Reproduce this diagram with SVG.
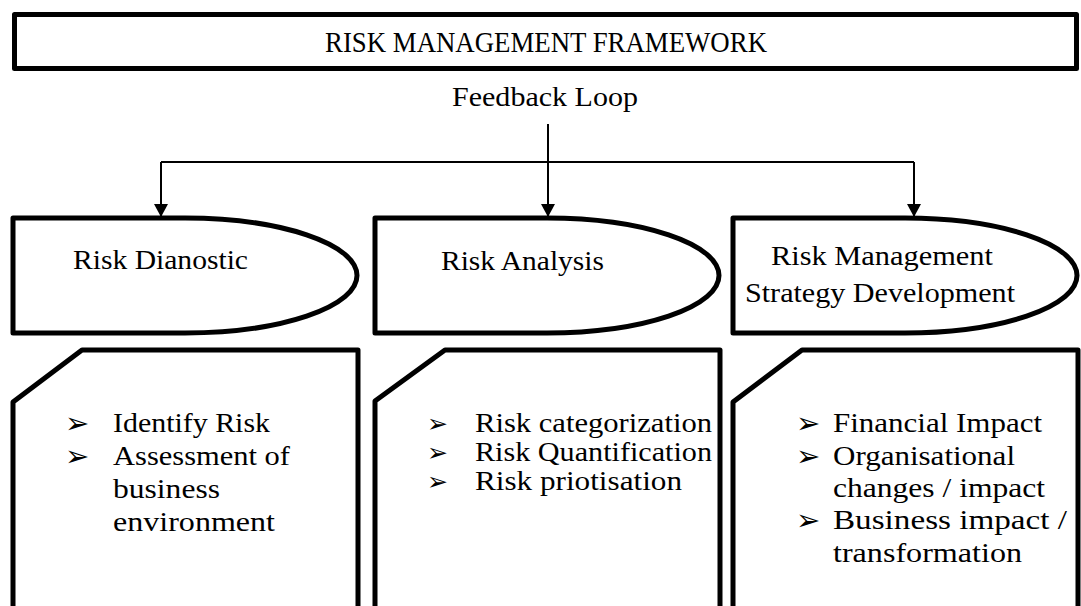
<svg xmlns="http://www.w3.org/2000/svg" width="1081" height="606" viewBox="0 0 1081 606">
<style>
.box{fill:#fff;stroke:#000;stroke-width:5;stroke-linejoin:round}
.t{font-family:"Liberation Serif","Times New Roman",serif;fill:#000}
.b{font-family:"DejaVu Sans",sans-serif;font-size:29px;fill:#000}
.b2{font-family:"DejaVu Sans",sans-serif;font-size:25px;fill:#000}
.c{fill:none;stroke:#000;stroke-width:2}
</style>
<defs>
<marker id="ah" viewBox="0 0 13 14" refX="13" refY="7" markerWidth="13" markerHeight="14" markerUnits="userSpaceOnUse" orient="auto">
<path d="M0,0 L13,7 L0,14 Z" fill="#000"/>
</marker>
</defs>
<rect width="1081" height="606" fill="#fff"/>
<g id="title">
<rect class="box" x="14.5" y="14.5" width="1062" height="54"/>
<text class="t" x="325" y="52" font-size="29" textLength="442" lengthAdjust="spacingAndGlyphs">RISK MANAGEMENT FRAMEWORK</text>
</g>
<g id="feedback">
<text class="t" x="452" y="106" font-size="27.5" textLength="186" lengthAdjust="spacingAndGlyphs">Feedback Loop</text>
</g>
<g id="connectors">
<path class="c" d="M548 124 V217" marker-end="url(#ah)"/>
<path class="c" d="M161 162 H914"/>
<path class="c" d="M161 162 V217" marker-end="url(#ah)"/>
<path class="c" d="M914 162 V217" marker-end="url(#ah)"/>
</g>
<g id="diag">
<path class="box" d="M13 218 H185 A172 57.5 0 0 1 185 333 H13 Z"/>
<text class="t" x="73" y="269" font-size="28" textLength="175" lengthAdjust="spacingAndGlyphs">Risk Dianostic</text>
</g>
<g id="analysis">
<path class="box" d="M375 218 H547 A172 57.5 0 0 1 547 333 H375 Z"/>
<text class="t" x="441" y="270" font-size="28" textLength="163" lengthAdjust="spacingAndGlyphs">Risk Analysis</text>
</g>
<g id="strategy">
<path class="box" d="M733 218 H905 A172 57.5 0 0 1 905 333 H733 Z"/>
<text class="t" x="771" y="265" font-size="27" textLength="222" lengthAdjust="spacingAndGlyphs">Risk Management</text>
<text class="t" x="745" y="302" font-size="27" textLength="270" lengthAdjust="spacingAndGlyphs">Strategy Development</text>
</g>
<g id="diag-list">
<path class="box" d="M82 350 H358 V625 H13 V402 Z"/>
<text class="b" x="65" y="433">➢</text>
<text class="b" x="65" y="466">➢</text>
<text class="t" x="113" y="432" font-size="28" textLength="157" lengthAdjust="spacingAndGlyphs">Identify Risk</text>
<text class="t" x="113" y="465" font-size="28" textLength="177" lengthAdjust="spacingAndGlyphs">Assessment of</text>
<text class="t" x="113" y="498" font-size="28" textLength="107" lengthAdjust="spacingAndGlyphs">business</text>
<text class="t" x="113" y="531" font-size="28" textLength="162" lengthAdjust="spacingAndGlyphs">environment</text>
</g>
<g id="analysis-list">
<path class="box" d="M445 350 H720 V625 H375 V401 Z"/>
<text class="b2" x="427" y="432">➢</text>
<text class="b2" x="427" y="461">➢</text>
<text class="b2" x="427" y="490">➢</text>
<text class="t" x="475" y="432" font-size="28" textLength="237" lengthAdjust="spacingAndGlyphs">Risk categorization</text>
<text class="t" x="475" y="461" font-size="28" textLength="237" lengthAdjust="spacingAndGlyphs">Risk Quantification</text>
<text class="t" x="475" y="490" font-size="28" textLength="207" lengthAdjust="spacingAndGlyphs">Risk priotisation</text>
</g>
<g id="strategy-list">
<path class="box" d="M802 350 H1078 V625 H733 V402 Z"/>
<text class="b" x="796" y="433">➢</text>
<text class="b" x="796" y="466">➢</text>
<text class="b" x="796" y="530">➢</text>
<text class="t" x="833" y="432" font-size="28" textLength="209" lengthAdjust="spacingAndGlyphs">Financial Impact</text>
<text class="t" x="833" y="465" font-size="28" textLength="182" lengthAdjust="spacingAndGlyphs">Organisational</text>
<text class="t" x="833" y="497" font-size="28" textLength="212" lengthAdjust="spacingAndGlyphs">changes / impact</text>
<text class="t" x="833" y="529" font-size="28" textLength="234" lengthAdjust="spacingAndGlyphs">Business impact /</text>
<text class="t" x="833" y="562" font-size="28" textLength="189" lengthAdjust="spacingAndGlyphs">transformation</text>
</g>
</svg>
